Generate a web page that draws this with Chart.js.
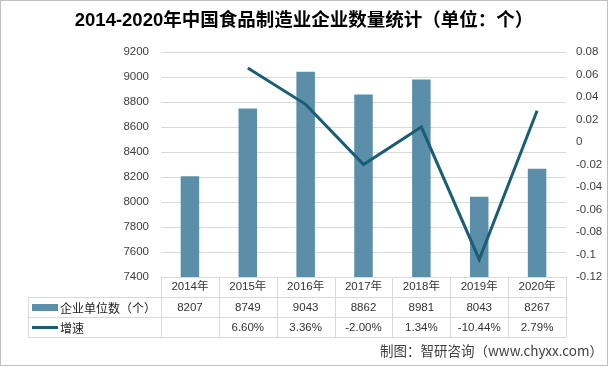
<!DOCTYPE html>
<html>
<head>
<meta charset="utf-8">
<script src="https://cdn.jsdelivr.net/npm/chart.js@4.4.0/dist/chart.umd.min.js"></script>
<style>
html,body{margin:0;padding:0;background:#fff;}
#wrap{position:relative;width:608px;height:366px;}
</style>
</head>
<body>
<div id="wrap"><canvas id="c" width="608" height="366"></canvas></div>
<script>
const years = ['2014年','2015年','2016年','2017年','2018年','2019年','2020年'];
const companyCount = [8207, 8749, 9043, 8862, 8981, 8043, 8267];
const growthRate = [null, 0.066, 0.0336, -0.02, 0.0134, -0.1044, 0.0279];
const seriesNames = ['企业单位数（个）', '增速'];
const titleText = '2014-2020年中国食品制造业企业数量统计（单位：个）';
const sourceText = '制图：智研咨询（www.chyxx.com）';

const BAR_COLOR = '#5b8fa9';
const LINE_COLOR = '#1a5e75';
const GRID = '#d9d9d9';
const FONT = '"Liberation Sans", "Noto Sans CJK SC", sans-serif';
const CJK = '"Noto Sans CJK SC", sans-serif';

const tablePlugin = {
  id: 'dataTable',
  afterDraw(chart) {
    const ctx = chart.ctx;
    const x = chart.scales.x;
    const area = chart.chartArea;
    const n = years.length;
    const cw = (area.right - area.left) / n;
    const top = area.bottom;
    const r1 = top + 20, r2 = r1 + 20, r3 = r2 + 20;
    const tableLeft = 28;
    ctx.save();
    ctx.strokeStyle = GRID;
    ctx.lineWidth = 1;
    ctx.beginPath();
    [r1, r2, r3].forEach(y => { ctx.moveTo(tableLeft, y + 0.5); ctx.lineTo(area.right, y + 0.5); });
    ctx.moveTo(tableLeft + 0.5, r1); ctx.lineTo(tableLeft + 0.5, r3);
    for (let i = 0; i <= n; i++) {
      const xx = Math.round(area.left + i * cw) + 0.5;
      ctx.moveTo(xx, top); ctx.lineTo(xx, r3);
    }
    ctx.stroke();

    ctx.fillStyle = '#333';
    ctx.font = '11.5px ' + FONT;
    ctx.textAlign = 'center';
    ctx.textBaseline = 'middle';
    for (let i = 0; i < n; i++) {
      const cx = x.getPixelForValue(i);
      ctx.fillText(String(companyCount[i]), cx, (r1 + r2) / 2 + 1);
      if (growthRate[i] !== null) {
        ctx.fillText((growthRate[i] * 100).toFixed(2) + '%', cx, (r2 + r3) / 2 + 1);
      }
    }
    // legend keys
    ctx.fillStyle = BAR_COLOR;
    ctx.fillRect(32, (r1 + r2) / 2 - 3, 26, 7);
    ctx.strokeStyle = LINE_COLOR;
    ctx.lineWidth = 3;
    ctx.beginPath();
    ctx.moveTo(32, (r2 + r3) / 2 + 0.5); ctx.lineTo(58, (r2 + r3) / 2 + 0.5);
    ctx.stroke();
    ctx.fillStyle = '#222';
    ctx.font = '12px ' + CJK;
    ctx.textAlign = 'left';
    ctx.fillText(seriesNames[0], 60, (r1 + r2) / 2 + 1);
    ctx.fillText(seriesNames[1], 60, (r2 + r3) / 2 + 1);

    // source
    ctx.fillStyle = '#404040';
    ctx.font = '13.5px ' + CJK;
    ctx.textAlign = 'right';
    ctx.fillText(sourceText, 603, 351);

    // outer border
    ctx.strokeStyle = '#bfbfbf';
    ctx.lineWidth = 1;
    ctx.strokeRect(0.5, 0.5, 607, 365);
    ctx.restore();
  }
};

new Chart(document.getElementById('c'), {
  type: 'bar',
  data: {
    labels: years,
    datasets: [
      {
        type: 'line',
        label: seriesNames[1],
        data: growthRate,
        yAxisID: 'y1',
        borderColor: LINE_COLOR,
        backgroundColor: LINE_COLOR,
        borderWidth: 3,
        pointRadius: 0,
        tension: 0,
        spanGaps: false,
        order: 0
      },
      {
        type: 'bar',
        label: seriesNames[0],
        data: companyCount,
        yAxisID: 'y',
        backgroundColor: BAR_COLOR,
        barPercentage: 0.32,
        categoryPercentage: 1,
        order: 1
      }
    ]
  },
  options: {
    responsive: false,
    animation: false,
    layout: { padding: { left: 0, right: 0, top: 0, bottom: 0 } },
    plugins: {
      legend: { display: false },
      tooltip: { enabled: false },
      title: {
        display: true,
        text: titleText,
        color: '#000',
        font: { family: FONT, size: 18.5, weight: 'bold' },
        padding: { top: 10, bottom: 20 }
      }
    },
    scales: {
      x: {
        grid: { display: false, drawTicks: false },
        border: { display: false },
        ticks: { color: '#333', font: { family: FONT, size: 11.5 }, padding: 3, maxRotation: 0 },
        afterFit(s) { s.height = 89; }
      },
      y: {
        position: 'left',
        min: 7400, max: 9200,
        grid: { color: GRID, drawTicks: false },
        border: { display: false },
        ticks: {
          stepSize: 200, color: '#404040', font: { family: FONT, size: 11.5 }, padding: 12,
          callback: v => String(v)
        },
        afterFit(s) { s.width = 161; }
      },
      y1: {
        position: 'right',
        min: -0.12, max: 0.08,
        grid: { display: false, drawTicks: false },
        border: { display: false },
        ticks: {
          stepSize: 0.02, color: '#404040', font: { family: FONT, size: 11.5 }, padding: 10,
          callback: v => String(Number(v.toFixed(2)))
        },
        afterFit(s) { s.width = 42; }
      }
    }
  },
  plugins: [tablePlugin]
});
</script>
</body>
</html>
